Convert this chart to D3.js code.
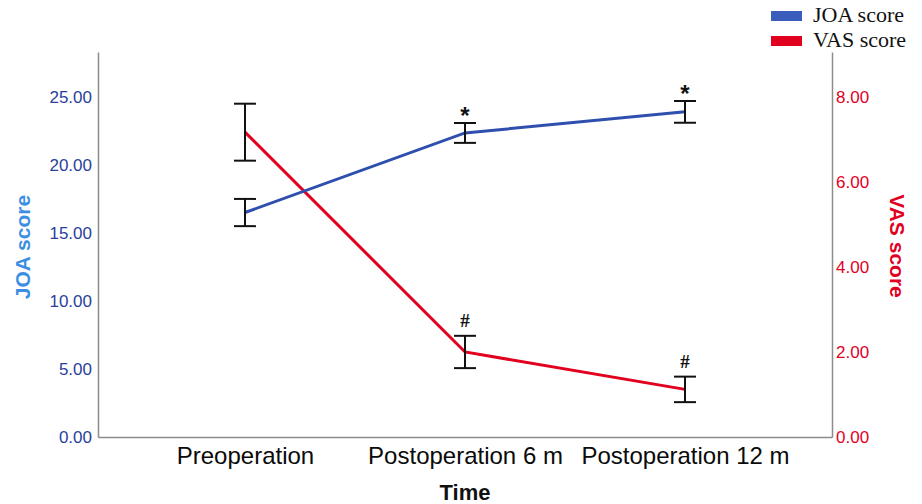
<!DOCTYPE html>
<html>
<head>
<meta charset="utf-8">
<script src="https://cdn.jsdelivr.net/npm/d3@7"></script>
<style>
  body { margin: 0; background: #fff; }
</style>
</head>
<body>
<div id="chart"></div>
<script>
const width = 922;
const height = 504;

// data
const categories = ["Preoperation", "Postoperation 6 m", "Postoperation 12 m"];
const joaMean = [16.5, 22.35, 23.9];
const joaErr = [1.0, 0.73, 0.8];
const vasMean = [7.17, 2.0, 1.12];
const vasErr = [0.67, 0.38, 0.3];
const joaMarks = ["", "*", "*"];
const vasMarks = ["", "#", "#"];
const joaTicks = [0, 5, 10, 15, 20, 25];
const vasTicks = [0, 2, 4, 6, 8];

const plotLeft = 98, plotRight = 832, plotTop = 52, plotBottom = 437;
const blue = "#2f4fae";
const red = "#e2001f";

const svg = d3
  .select("#chart")
  .append("svg")
  .attr("width", width)
  .attr("height", height)
  .style("font-family", "'Liberation Sans', Arial, sans-serif");

const x = d3.scalePoint().domain(categories).range([plotLeft, plotRight]).padding(0.668);
const yJoa = d3.scaleLinear().domain([0, 28.3]).range([plotBottom, plotTop]);
const yVas = d3.scaleLinear().domain([0, 28.3 * 8 / 25]).range([plotBottom, plotTop]);

// axes
const leftAxis = svg
  .append("g")
  .attr("transform", `translate(${plotLeft},0)`)
  .call(d3.axisLeft(yJoa).tickValues(joaTicks).tickSize(0).tickPadding(6).tickFormat(d3.format(".2f")));
leftAxis.selectAll("text").style("font-size", "17px").style("fill", "#2a3f9c");

const rightAxis = svg
  .append("g")
  .attr("transform", `translate(${plotRight},0)`)
  .call(d3.axisRight(yVas).tickValues(vasTicks).tickSize(0).tickPadding(4).tickFormat(d3.format(".2f")));
rightAxis.selectAll("text").style("font-size", "17px").style("fill", red);

const bottomAxis = svg
  .append("g")
  .attr("transform", `translate(0,${plotBottom})`)
  .call(d3.axisBottom(x).tickSize(0).tickPadding(10));
bottomAxis.selectAll("text").style("font-size", "24px").style("fill", "#0a0a0a");

svg.selectAll(".domain").attr("stroke", "#8c8c8c").attr("stroke-width", 1.5);

// axis titles
svg.append("text")
  .attr("transform", `translate(30,247) rotate(-90)`)
  .attr("text-anchor", "middle")
  .style("font-size", "21px")
  .style("font-weight", "bold")
  .style("fill", "#3b8ee3")
  .text("JOA score");

svg.append("text")
  .attr("transform", `translate(890,246) rotate(90)`)
  .attr("text-anchor", "middle")
  .style("font-size", "21px")
  .style("font-weight", "bold")
  .style("fill", red)
  .text("VAS score");

svg.append("text")
  .attr("x", (plotLeft + plotRight) / 2)
  .attr("y", 500)
  .attr("text-anchor", "middle")
  .style("font-size", "22px")
  .style("font-weight", "bold")
  .style("fill", "#111")
  .text("Time");

// lines
const vasLine = d3.line().x((d, i) => x(categories[i])).y((d) => yVas(d));
const joaLine = d3.line().x((d, i) => x(categories[i])).y((d) => yJoa(d));

svg.append("path")
  .datum(vasMean)
  .attr("d", vasLine)
  .attr("fill", "none")
  .attr("stroke", red)
  .attr("stroke-width", 3);

svg.append("path")
  .datum(joaMean)
  .attr("d", joaLine)
  .attr("fill", "none")
  .attr("stroke", blue)
  .attr("stroke-width", 3);

// error bars
function errorBars(means, errs, scale) {
  const g = svg.append("g").attr("stroke", "#111").attr("stroke-width", 2);
  means.forEach((m, i) => {
    const cx = x(categories[i]);
    const y0 = scale(m - errs[i]);
    const y1 = scale(m + errs[i]);
    g.append("line").attr("x1", cx).attr("x2", cx).attr("y1", y0).attr("y2", y1);
    g.append("line").attr("x1", cx - 11).attr("x2", cx + 11).attr("y1", y0).attr("y2", y0);
    g.append("line").attr("x1", cx - 11).attr("x2", cx + 11).attr("y1", y1).attr("y2", y1);
  });
}
errorBars(joaMean, joaErr, yJoa);
errorBars(vasMean, vasErr, yVas);

// significance marks
svg.selectAll(".joa-mark")
  .data(joaMarks)
  .enter()
  .append("text")
  .attr("class", "joa-mark")
  .attr("x", (d, i) => x(categories[i]))
  .attr("y", (d, i) => yJoa(joaMean[i] + joaErr[i]) + 1)
  .attr("text-anchor", "middle")
  .style("font-size", "24px")
  .style("font-weight", "bold")
  .style("fill", "#111")
  .text((d) => d);

svg.selectAll(".vas-mark")
  .data(vasMarks)
  .enter()
  .append("text")
  .attr("class", "vas-mark")
  .attr("x", (d, i) => x(categories[i]))
  .attr("y", (d, i) => yVas(vasMean[i] + vasErr[i]) - 9)
  .attr("text-anchor", "middle")
  .style("font-family", "'Liberation Serif', 'Times New Roman', serif")
  .style("font-size", "19px")
  .style("font-weight", "bold")
  .style("fill", "#111")
  .text((d) => d);

// legend
const legendItems = [
  { label: "JOA score", color: "#3a5cbd" },
  { label: "VAS score", color: red },
];
const legend = svg.append("g").attr("transform", "translate(771,11)");
legend.selectAll("rect")
  .data(legendItems)
  .enter()
  .append("rect")
  .attr("x", 0)
  .attr("y", (d, i) => i * 25)
  .attr("width", 31)
  .attr("height", 10)
  .style("fill", (d) => d.color);
legend.selectAll("text")
  .data(legendItems)
  .enter()
  .append("text")
  .attr("x", 42)
  .attr("y", (d, i) => i * 25 + 11)
  .style("font-family", "'Liberation Serif', 'Times New Roman', serif")
  .style("font-size", "22px")
  .style("fill", "#111")
  .text((d) => d.label);
</script>
</body>
</html>
